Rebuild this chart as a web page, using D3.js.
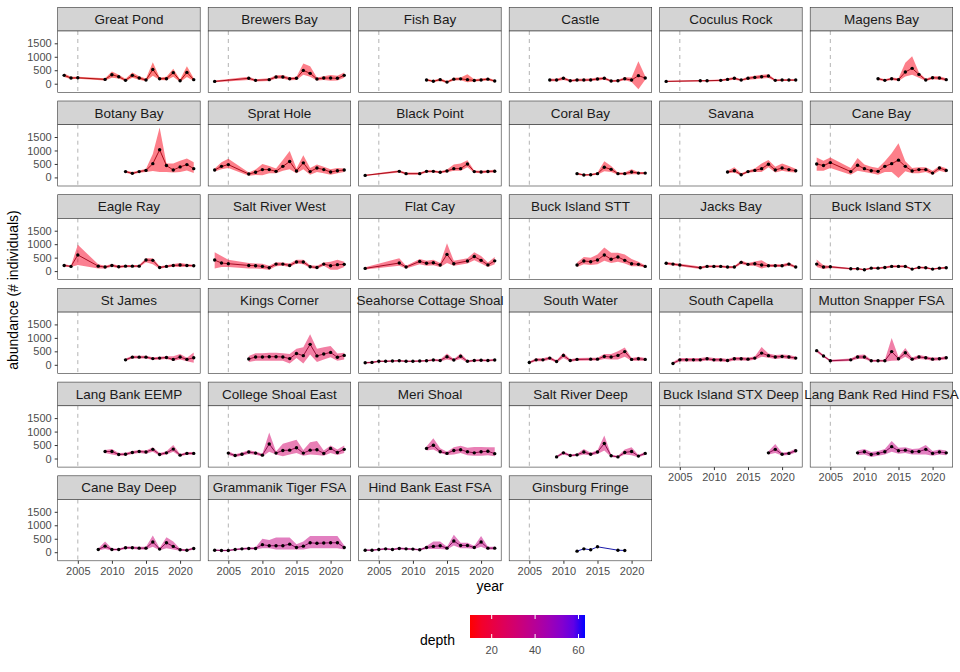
<!DOCTYPE html>
<html>
<head>
<meta charset="utf-8">
<script src="https://cdn.jsdelivr.net/npm/d3@7"></script>
<style>
  body { margin: 0; background: #fff; }
  text { font-family: "Liberation Sans", Arial, sans-serif; }
</style>
</head>
<body>
<svg id="chart" width="960" height="672"></svg>
<script>
const sites = ["Great Pond", "Brewers Bay", "Fish Bay", "Castle", "Coculus Rock", "Magens Bay",
  "Botany Bay", "Sprat Hole", "Black Point", "Coral Bay", "Savana", "Cane Bay",
  "Eagle Ray", "Salt River West", "Flat Cay", "Buck Island STT", "Jacks Bay", "Buck Island STX",
  "St James", "Kings Corner", "Seahorse Cottage Shoal", "South Water", "South Capella", "Mutton Snapper FSA",
  "Lang Bank EEMP", "College Shoal East", "Meri Shoal", "Salt River Deep", "Buck Island STX Deep", "Lang Bank Red Hind FSA",
  "Cane Bay Deep", "Grammanik Tiger FSA", "Hind Bank East FSA", "Ginsburg Fringe"];

const depth = [10, 12, 10, 12, 12, 12, 12, 12, 12, 12, 12, 12,
  14, 15, 15, 14, 14, 14, 20, 22, 22, 20, 22, 24,
  27, 30, 30, 30, 33, 35, 32, 35, 35, 63];

const yA = [2003, 2004, 2005, 2008, 2009, 2010, 2011, 2012, 2013, 2014, 2015, 2016, 2017, 2018, 2019, 2020, 2021, 2022];
const yB = [2003, 2008, 2009, 2011, 2012, 2013, 2014, 2015, 2016, 2017, 2018, 2019, 2020, 2021, 2022];
const y12 = [2012, 2013, 2014, 2015, 2016, 2017, 2018, 2019, 2020, 2021, 2022];
const y08 = [2008, 2009, 2010, 2011, 2012, 2013, 2014, 2015, 2016, 2017, 2018, 2019, 2020, 2021, 2022];
const y09 = [2009, 2010, 2011, 2012, 2013, 2014, 2015, 2016, 2017, 2018, 2019, 2020, 2021, 2022];
const y03 = [2003, 2004, 2005, 2006, 2007, 2008, 2009, 2010, 2011, 2012, 2013, 2014, 2015, 2016, 2017, 2018, 2019, 2020, 2021, 2022];

const years = [
  [2003, 2004, 2005, 2009, 2010, 2011, 2012, 2013, 2014, 2015, 2016, 2017, 2018, 2019, 2020, 2021, 2022],
  yB, y12, y08, yB, y12,
  y12, yA, yB, y12, y12, yA,
  yA, yA, [2003, 2008, 2009, 2011, 2012, 2013, 2014, 2015, 2016, 2018, 2019, 2020, 2021, 2022], y12, yA, yA,
  y12, y08, y03, [2005, 2006, 2007, 2008, 2009, 2010, 2011, 2012, 2014, 2015, 2016, 2017, 2018, 2019, 2020, 2021, 2022],
  y03.slice(1), yA,
  y09, y03.slice(2), y12, y09, [2018, 2019, 2020, 2021, 2022], y09,
  y08, y03, y03, [2012, 2013, 2014, 2015, 2018, 2019]
];

const abundance = [
  [310,210,220,160,335,260,125,310,210,135,530,185,185,410,110,420,150],
  [85,200,125,150,250,250,185,200,495,385,175,210,210,200,310],
  [140,90,150,60,170,180,150,120,140,170,100],
  [135,135,200,110,135,135,140,175,200,100,110,185,135,300,210],
  [85,110,110,125,160,200,135,200,235,260,285,125,135,135,135],
  [185,125,185,150,435,570,345,135,220,210,150],
  [215,150,215,260,510,1025,440,275,390,475,325],
  [275,410,475,125,190,290,290,225,410,590,240,540,215,350,290,200,250,275],
  [75,225,140,140,225,225,190,240,325,325,500,215,200,220,230],
  [140,90,100,140,375,300,140,140,200,160,160],
  [200,250,100,215,260,325,490,275,350,290,250],
  [500,440,550,215,450,325,250,225,410,510,640,410,240,290,290,160,350,260],
  [210,175,600,185,150,210,160,185,185,185,410,400,135,175,210,225,210,200],
  [410,300,275,210,200,175,125,260,260,210,340,340,160,135,260,200,240,250],
  [100,300,150,360,290,310,225,620,275,375,540,400,230,380],
  [225,375,350,410,600,440,525,400,275,250,175],
  [290,260,225,125,175,175,175,150,150,325,250,275,225,200,200,200,260,150],
  [260,150,160,90,90,50,110,110,135,175,175,175,75,135,125,75,110,125],
  [185,285,285,285,230,250,270,200,290,200,260],
  [215,290,290,300,300,290,230,420,340,760,330,400,460,280,350],
  [75,90,130,130,140,150,130,130,140,150,180,160,300,180,320,130,160,170,160,180],
  [85,185,185,250,125,350,160,200,210,210,310,290,350,490,200,225,200],
  [50,185,185,185,185,225,185,185,160,225,225,210,250,435,340,290,310,290,250],
  [525,325,150,185,290,290,150,150,150,490,225,450,210,290,260,210,225,260],
  [260,260,150,160,225,260,240,340,150,210,350,125,190,190],
  [200,110,160,240,200,125,540,200,300,310,400,200,310,325,190,375,225,340],
  [375,490,250,190,300,325,250,210,250,270,180],
  [60,210,110,135,240,160,240,560,100,60,225,260,90,190],
  [210,340,160,190,290],
  [210,250,150,190,250,440,290,310,250,260,340,190,240,210],
  [100,225,100,100,165,165,150,150,380,115,350,215,90,75,140],
  [75,65,65,100,125,140,140,280,240,240,240,300,175,225,350,330,340,350,350,175],
  [75,75,100,125,100,140,125,115,90,175,215,240,150,415,250,250,175,380,150,150],
  [40,125,90,200,75,65]
];

const lower = [
  [250,170,180,120,220,190,90,220,150,90,300,140,130,260,60,250,100],
  [50,140,80,100,190,180,130,140,330,260,120,140,110,120,220],
  [100,60,100,20,120,130,50,80,100,120,60],
  [90,90,140,70,90,90,100,120,150,60,70,130,60,-210,150],
  [60,80,80,90,120,150,100,150,170,190,210,90,100,100,100],
  [140,90,140,100,270,330,220,100,170,150,110],
  [170,110,170,200,240,200,200,180,200,260,160],
  [220,300,350,60,90,80,150,150,250,300,150,300,100,200,150,100,150,200],
  [50,180,100,100,180,180,150,190,250,250,380,170,150,170,180],
  [100,60,70,100,230,200,100,100,120,120,120],
  [150,180,60,170,200,200,380,180,250,200,180],
  [250,250,350,100,250,200,150,100,200,200,-20,230,150,150,200,100,250,180],
  [160,150,230,100,100,160,110,140,140,140,330,250,90,130,160,150,160,160],
  [100,150,150,100,100,80,50,180,200,150,280,250,120,80,200,50,50,150],
  [60,200,100,250,200,220,150,300,200,280,400,280,150,250],
  [150,250,230,250,380,300,350,280,180,180,130],
  [240,210,180,80,130,130,130,110,110,260,200,200,100,150,150,150,200,110],
  [150,80,120,60,60,20,80,80,100,130,130,130,50,100,90,50,80,90],
  [140,230,230,230,180,200,220,150,200,130,80],
  [100,150,150,150,150,150,50,250,50,380,100,200,280,150,200],
  [50,60,100,100,110,120,100,100,110,120,140,120,200,140,220,90,120,130,120,140],
  [50,130,130,190,80,250,110,150,160,160,220,200,200,300,150,150,150],
  [20,120,120,120,120,160,120,120,100,160,160,150,190,300,260,220,240,220,190],
  [470,280,110,140,220,220,110,110,110,150,160,300,150,220,200,150,170,200],
  [200,150,100,110,170,200,180,250,100,150,250,80,140,140],
  [130,60,100,170,140,70,250,150,80,150,200,100,150,130,100,200,130,200],
  [300,330,200,130,150,200,120,100,100,120,80],
  [30,150,70,90,150,110,170,300,60,30,150,120,50,130],
  [150,200,110,130,220],
  [120,150,60,100,150,250,180,200,150,150,150,100,150,120],
  [60,120,60,60,120,120,100,100,200,70,150,100,50,40,100],
  [50,40,40,70,90,100,100,150,150,100,100,100,100,100,150,150,150,150,150,100],
  [50,50,70,90,70,100,90,80,60,120,120,120,100,250,150,150,120,200,100,100],
  null
];

const upper = [
  [380,260,260,200,450,330,180,420,280,190,800,230,260,560,160,650,200],
  [120,260,170,200,310,320,240,260,750,650,230,280,320,300,420],
  [180,130,200,100,220,230,350,170,190,220,140],
  [180,180,260,150,180,180,190,230,250,140,150,240,230,830,280],
  [110,140,140,160,200,250,170,260,300,330,350,160,170,170,170],
  [230,170,230,200,780,1020,420,180,280,280,200],
  [260,200,260,320,870,1850,520,520,620,700,560],
  [330,560,690,180,290,500,420,330,650,980,330,820,350,480,400,300,350,330],
  [100,270,180,180,270,270,230,290,480,520,640,260,250,270,280],
  [180,120,130,180,600,420,180,180,300,200,200],
  [250,380,150,260,330,520,650,400,520,420,320],
  [740,620,740,350,720,480,400,350,600,900,1270,600,350,380,380,250,420,340],
  [260,200,980,250,200,260,210,230,230,230,480,480,180,220,260,300,260,240],
  [700,560,420,300,280,270,200,330,320,280,420,420,220,200,320,350,420,350],
  [140,480,200,450,380,420,300,1030,380,480,700,560,320,520],
  [320,520,500,620,880,680,680,620,450,350,220],
  [340,310,270,170,220,220,220,190,190,390,300,360,400,250,250,250,320,190],
  [430,220,200,120,120,80,140,140,170,220,220,220,100,170,160,100,140,160],
  [230,340,340,340,280,300,320,320,400,260,460],
  [330,430,430,450,450,430,400,600,650,1130,600,650,700,420,450],
  [100,120,160,160,170,180,160,160,170,180,220,200,420,220,420,170,200,210,200,220],
  [120,240,240,310,170,450,210,250,260,260,400,400,500,640,250,300,250],
  [100,250,250,250,250,290,250,250,220,290,290,270,310,660,420,360,380,360,310],
  [580,370,190,230,360,380,190,190,190,1000,290,620,270,360,320,270,280,320],
  [320,350,200,210,280,320,300,420,200,270,500,170,240,240],
  [270,160,220,310,260,180,970,260,550,620,700,320,600,650,300,480,330,480],
  [450,750,380,250,420,470,400,430,430,420,420],
  [100,270,150,180,350,210,310,850,140,100,330,420,130,250],
  [270,540,210,250,360],
  [300,350,240,280,350,650,400,420,350,370,500,280,330,300],
  [140,400,140,140,210,210,200,200,620,160,560,400,130,110,180],
  [100,90,90,130,160,180,180,500,450,550,550,550,300,400,600,600,600,600,600,250],
  [100,100,130,160,130,180,160,150,120,230,400,400,200,650,350,350,230,600,200,200],
  null
];

const xTicks = [2005, 2010, 2015, 2020];
const yTicks = [0, 500, 1000, 1500];

// layout
const nCol = 6;
const x0 = 57.7, colPitch = 150.5, panelW = 142.5;
const y0 = 7.3, rowPitch = 93.7, stripH = 23.7, panelH = 61.3;

const svg = d3.select("#chart");
const x = d3.scaleLinear().domain([2002.05, 2022.95]).range([0, panelW]);
const y = d3.scaleLinear().domain([-319, 1957]).range([panelH, 0]);
const color = d3.scaleLinear().domain([10, 63]).range(["red", "blue"]).interpolate(d3.interpolateLab);

const area = d3.area().x(d => x(d.yr)).y0(d => y(d.lo)).y1(d => y(d.hi));
const line = d3.line().x(d => x(d.yr)).y(d => y(d.v));

const nSites = sites.length;
sites.forEach((name, i) => {
  const c = i % nCol, r = Math.floor(i / nCol);
  const gx = x0 + c * colPitch, gy = y0 + r * rowPitch;
  const g = svg.append("g").attr("transform", `translate(${gx},${gy})`);

  g.append("rect").attr("width", panelW).attr("height", stripH)
    .attr("fill", "#d4d4d4").attr("stroke", "#333").attr("stroke-width", 0.6);
  g.append("text").attr("x", panelW / 2).attr("y", stripH / 2 + 4.8)
    .attr("text-anchor", "middle").attr("font-size", 13.5).attr("fill", "#1a1a1a")
    .text(name);

  const p = g.append("g").attr("transform", `translate(0,${stripH})`);
  p.append("rect").attr("width", panelW).attr("height", panelH).attr("fill", "#fff");
  p.append("line").attr("x1", x(2005)).attr("x2", x(2005)).attr("y1", 0).attr("y2", panelH)
    .attr("stroke", "#b3b3b3").attr("stroke-dasharray", "4,4");

  const pts = years[i].map((yr, k) => ({
    yr, v: abundance[i][k],
    lo: lower[i] ? lower[i][k] : null, hi: upper[i] ? upper[i][k] : null
  }));
  const col = color(depth[i]);
  if (lower[i]) {
    p.append("path").datum(pts).attr("d", area).attr("fill", col).attr("fill-opacity", 0.5);
  }
  p.append("path").datum(pts).attr("d", line).attr("fill", "none")
    .attr("stroke", d3.color(col).darker(1.3)).attr("stroke-width", 0.9);
  p.selectAll("circle").data(pts).join("circle")
    .attr("cx", d => x(d.yr)).attr("cy", d => y(d.v)).attr("r", 1.7).attr("fill", "#000");

  p.append("rect").attr("width", panelW).attr("height", panelH)
    .attr("fill", "none").attr("stroke", "#333").attr("stroke-width", 0.6);

  if (c === 0) {
    const ya = p.append("g").call(d3.axisLeft(y).tickValues(yTicks).tickFormat(d3.format("d")).tickSize(3).tickSizeOuter(0));
    ya.select(".domain").remove();
    ya.selectAll("line").attr("stroke", "#333");
    ya.selectAll("text").attr("font-size", 11).attr("fill", "#4d4d4d");
  }
  if (i + nCol >= nSites) {
    const xa = p.append("g").attr("transform", `translate(0,${panelH})`)
      .call(d3.axisBottom(x).tickValues(xTicks).tickFormat(d3.format("d")).tickSize(3).tickSizeOuter(0));
    xa.select(".domain").remove();
    xa.selectAll("line").attr("stroke", "#333");
    xa.selectAll("text").attr("font-size", 11).attr("fill", "#4d4d4d");
  }
});

// axis titles
svg.append("text").attr("x", 490).attr("y", 591).attr("text-anchor", "middle")
  .attr("font-size", 14).text("year");
svg.append("text").attr("transform", "translate(18,290) rotate(-90)").attr("text-anchor", "middle")
  .attr("font-size", 14).text("abundance (# individuals)");

// legend
const lg = svg.append("g");
const defs = svg.append("defs");
const grad = defs.append("linearGradient").attr("id", "depthGrad");
d3.range(0, 1.001, 0.1).forEach(t => {
  grad.append("stop").attr("offset", t).attr("stop-color", color(10 + t * 53));
});
const lx = d3.scaleLinear().domain([10, 63]).range([470, 585]);
lg.append("rect").attr("x", 470).attr("y", 615).attr("width", 115).attr("height", 23)
  .attr("fill", "url(#depthGrad)");
[20, 40, 60].forEach(v => {
  lg.append("line").attr("x1", lx(v)).attr("x2", lx(v)).attr("y1", 615).attr("y2", 619).attr("stroke", "#fff");
  lg.append("line").attr("x1", lx(v)).attr("x2", lx(v)).attr("y1", 634).attr("y2", 638).attr("stroke", "#fff");
  lg.append("text").attr("x", lx(v)).attr("y", 654).attr("text-anchor", "middle")
    .attr("font-size", 11).attr("fill", "#4d4d4d").text(v);
});
lg.append("text").attr("x", 420).attr("y", 645).attr("font-size", 14).text("depth");
</script>
</body>
</html>
